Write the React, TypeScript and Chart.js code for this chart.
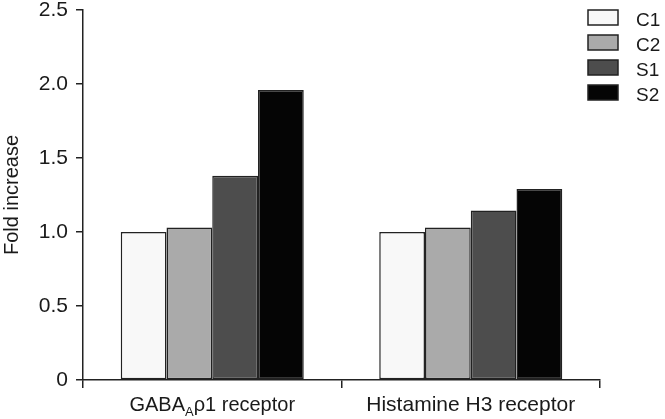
import React, { useEffect, useRef } from 'react';
import { Chart, registerables } from 'chart.js';

Chart.register(...registerables);

const categories = ['GABAAρ1 receptor', 'Histamine H3 receptor'];
const seriesNames = ['C1', 'C2', 'S1', 'S2'];
const c1Values = [1.0, 1.0];
const c2Values = [1.03, 1.03];
const s1Values = [1.38, 1.145];
const s2Values = [1.96, 1.29];
const yTickValues = [0, 0.5, 1.0, 1.5, 2.0, 2.5];
const seriesColors = ['#f8f8f8', '#aaaaaa', '#4d4d4d', '#050505'];

const FONT = '"Liberation Sans", Arial, Helvetica, sans-serif';
const TEXT = '#1a1a1a';
const LINE = '#222222';

const labelPlugin = {
  id: 'customLabels',
  afterDraw(chart: any) {
    const ctx = chart.ctx;
    const xScale = chart.scales.x;
    ctx.save();
    ctx.fillStyle = TEXT;
    ctx.textBaseline = 'alphabetic';
    const baseY = 411;
    categories.forEach((cat, i) => {
      const cx = xScale.getPixelForTick(i);
      if (cat.startsWith('GABAA')) {
        const parts = [
          { t: 'GABA', size: 20, dy: 0 },
          { t: 'A', size: 13, dy: 5 },
          { t: cat.slice(5), size: 20, dy: 0 },
        ];
        let total = 0;
        parts.forEach((p) => {
          ctx.font = `${p.size}px ${FONT}`;
          total += ctx.measureText(p.t).width;
        });
        let x = cx - total / 2;
        ctx.textAlign = 'left';
        parts.forEach((p) => {
          ctx.font = `${p.size}px ${FONT}`;
          ctx.fillText(p.t, x, baseY + p.dy);
          x += ctx.measureText(p.t).width;
        });
      } else {
        ctx.font = `21px ${FONT}`;
        ctx.textAlign = 'center';
        ctx.fillText(cat, cx, baseY);
      }
    });

    // legend
    const boxX = 588;
    const boxW = 30;
    const boxH = 15;
    const startY = 10;
    const step = 25;
    ctx.font = `19px ${FONT}`;
    ctx.textAlign = 'left';
    seriesNames.forEach((name, i) => {
      const y = startY + i * step;
      ctx.fillStyle = seriesColors[i];
      ctx.fillRect(boxX, y, boxW, boxH);
      ctx.strokeStyle = LINE;
      ctx.lineWidth = 1.5;
      ctx.strokeRect(boxX, y, boxW, boxH);
      ctx.fillStyle = TEXT;
      ctx.fillText(name, 636, y + 16);
    });
    ctx.restore();
  },
};

export default function App() {
  const canvasRef = useRef<HTMLCanvasElement | null>(null);

  useEffect(() => {
    if (!canvasRef.current) return;
    const dataArrays = [c1Values, c2Values, s1Values, s2Values];
    const chart = new Chart(canvasRef.current, {
      type: 'bar',
      data: {
        labels: categories,
        datasets: seriesNames.map((name, i) => ({
          label: name,
          data: dataArrays[i],
          backgroundColor: seriesColors[i],
          borderColor: LINE,
          borderWidth: 1.5,
          borderSkipped: false,
          categoryPercentage: 0.708,
          barPercentage: 1.0,
        })),
      },
      options: {
        responsive: false,
        maintainAspectRatio: false,
        animation: false,
        layout: { padding: { left: 0, right: 65, top: 0, bottom: 0 } },
        plugins: {
          legend: { display: false },
          tooltip: { enabled: false },
        },
        scales: {
          x: {
            type: 'category',
            offset: true,
            grid: {
              display: true,
              offset: true,
              drawOnChartArea: false,
              drawTicks: true,
              tickLength: 8,
              color: LINE,
              lineWidth: 1.5,
            },
            border: { display: true, color: LINE, width: 1.5 },
            ticks: {
              color: 'rgba(0,0,0,0)',
              font: { family: FONT, size: 19 },
            },
            afterFit: (scale: any) => {
              scale.height = 39;
              scale.paddingLeft = 0;
              scale.paddingRight = 0;
            },
          },
          y: {
            min: 0,
            max: 2.5,
            afterBuildTicks: (scale: any) => {
              scale.ticks = yTickValues.map((v) => ({ value: v }));
            },
            grid: {
              display: true,
              drawOnChartArea: false,
              drawTicks: true,
              tickLength: 7,
              color: LINE,
              lineWidth: 1.5,
            },
            border: { display: true, color: LINE, width: 1.5 },
            ticks: {
              color: TEXT,
              padding: 8,
              font: { family: FONT, size: 21 },
              callback: (v: any) => (Number(v) === 0 ? '0' : Number(v).toFixed(1)),
            },
            title: {
              display: true,
              text: 'Fold increase',
              color: TEXT,
              font: { family: FONT, size: 20 },
              padding: { top: 0, bottom: 0 },
            },
            afterFit: (scale: any) => {
              scale.width = 83;
              scale.paddingTop = 10;
              scale.paddingBottom = 0;
            },
          },
        },
      },
      plugins: [labelPlugin],
    });
    return () => chart.destroy();
  }, []);

  return (
    <div style={{ position: 'absolute', left: 0, top: 0, width: 665, height: 419, background: '#fff' }}>
      <canvas ref={canvasRef} width={665} height={419} style={{ display: 'block' }} />
    </div>
  );
}
